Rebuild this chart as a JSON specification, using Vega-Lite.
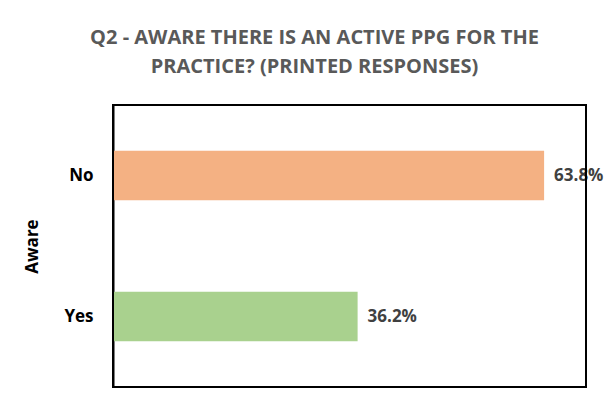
{
  "$schema": "https://vega.github.io/schema/vega-lite/v6.json",
  "width": 473,
  "height": 282,
  "autosize": "none",
  "padding": {"left": 113, "top": 105, "right": 29, "bottom": 32},
  "background": "white",
  "title": {
    "text": ["Q2 - AWARE THERE IS AN ACTIVE PPG FOR THE", "PRACTICE? (PRINTED RESPONSES)"],
    "font": "Open Sans",
    "fontSize": 20,
    "fontWeight": "bold",
    "color": "#595959",
    "anchor": "middle",
    "dx": -35,
    "offset": 27,
    "lineHeight": 29
  },
  "data": {
    "values": [
      {"aware": "No", "pct": 0.638},
      {"aware": "Yes", "pct": 0.362}
    ]
  },
  "layer": [
    {
      "mark": {"type": "bar"},
      "encoding": {
        "y": {
          "field": "aware",
          "type": "nominal",
          "sort": ["No", "Yes"],
          "scale": {"paddingInner": 0.65, "paddingOuter": 0.325},
          "axis": {
            "title": "Aware",
            "titleFont": "Open Sans",
            "titleFontSize": 17,
            "titleFontWeight": "bold",
            "titleColor": "#000000",
            "titlePadding": 22,
            "labelFont": "Open Sans",
            "labelFontSize": 17,
            "labelFontWeight": "bold",
            "labelColor": "#000000",
            "labelPadding": 20,
            "ticks": false,
            "domain": true,
            "domainColor": "#000000",
            "domainWidth": 2
          }
        },
        "x": {
          "field": "pct",
          "type": "quantitative",
          "scale": {"domain": [0, 0.7], "nice": false},
          "axis": {
            "title": null,
            "values": [0, 0.1, 0.2, 0.3, 0.4, 0.5, 0.6, 0.7],
            "format": ".1%",
            "labelFlush": false,
            "labelFont": "Open Sans",
            "labelFontSize": 13,
            "labelColor": "#595959",
            "labelPadding": 12,
            "ticks": false,
            "domain": true,
            "domainColor": "#000000",
            "domainWidth": 2,
            "grid": true,
            "gridColor": "#d9d9d9",
            "gridWidth": 1
          }
        },
        "color": {
          "field": "aware",
          "type": "nominal",
          "scale": {"domain": ["No", "Yes"], "range": ["#F4B183", "#A9D18E"]},
          "legend": null
        }
      }
    },
    {
      "mark": {
        "type": "text",
        "align": "left",
        "baseline": "middle",
        "dx": 10,
        "font": "Open Sans",
        "fontSize": 17,
        "fontWeight": "bold",
        "color": "#404040"
      },
      "encoding": {
        "y": {"field": "aware", "type": "nominal", "sort": ["No", "Yes"]},
        "x": {"field": "pct", "type": "quantitative"},
        "text": {"field": "pct", "type": "quantitative", "format": ".1%"}
      }
    },
    {
      "mark": {"type": "rect", "filled": false, "stroke": "#000000", "strokeWidth": 2},
      "encoding": {
        "x": {"datum": 0, "type": "quantitative", "axis": null},
        "x2": {"datum": 0.7}
      }
    }
  ],
  "config": {
    "view": {"stroke": null}
  }
}
